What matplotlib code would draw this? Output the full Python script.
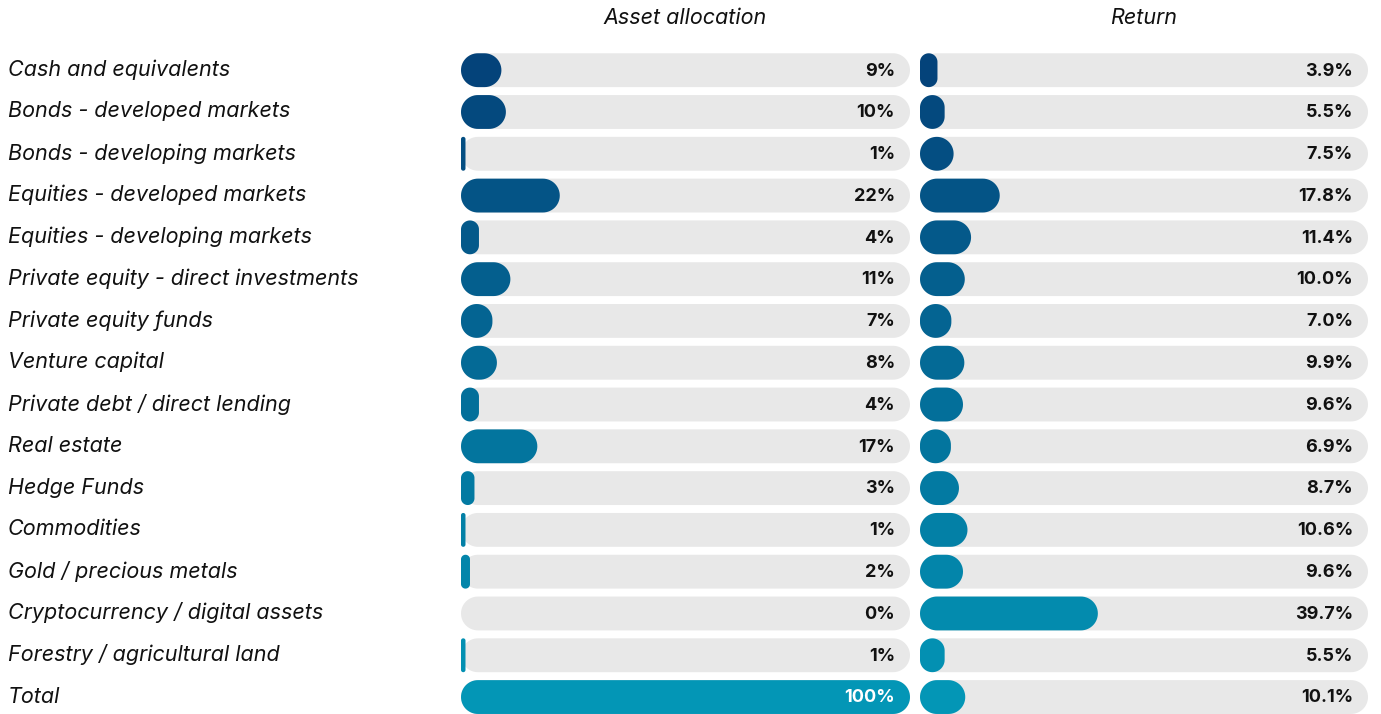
import numpy as np
import matplotlib
matplotlib.use("Agg")
import matplotlib.pyplot as plt
from matplotlib.patches import Polygon
from matplotlib.colors import to_rgb

categories = [
    "Cash and equivalents",
    "Bonds - developed markets",
    "Bonds - developing markets",
    "Equities - developed markets",
    "Equities - developing markets",
    "Private equity - direct investments",
    "Private equity funds",
    "Venture capital",
    "Private debt / direct lending",
    "Real estate",
    "Hedge Funds",
    "Commodities",
    "Gold / precious metals",
    "Cryptocurrency / digital assets",
    "Forestry / agricultural land",
    "Total",
]
allocation = [9, 10, 1, 22, 4, 11, 7, 8, 4, 17, 3, 1, 2, 0, 1, 100]
returns = [3.9, 5.5, 7.5, 17.8, 11.4, 10.0, 7.0, 9.9, 9.6, 6.9, 8.7, 10.6, 9.6, 39.7, 5.5, 10.1]
allocation_labels = [f"{v}%" for v in allocation]
return_labels = [f"{v:.1f}%" for v in returns]

W, H = 1381, 714
FONT = "Inter"

# row colours: dark navy at the top to teal at the bottom
c_top = np.array(to_rgb("#04437a"))
c_bot = np.array(to_rgb("#0396b6"))
n = len(categories)
row_colors = [tuple(c_top + (c_bot - c_top) * i / (n - 1)) for i in range(n)]

fig = plt.figure(figsize=(W / 100, H / 100), dpi=100)
fig.patch.set_facecolor("white")

row0, step = 70.2, 41.79
bar_h = 0.81  # in row units


def px_axes(x0, x1):
    top = row0 - step / 2
    bottom = row0 + step * (n - 0.5)
    return fig.add_axes([x0 / W, 1 - bottom / H, (x1 - x0) / W, (bottom - top) / H])


def rounded(ax, x, y, w, h, color, aspect):
    # pill / rounded bar with circular corners; aspect = y-units per x-unit on screen
    h_x = h / aspect
    r = min(w / 2, h_x / 2)
    t = np.linspace(0, np.pi / 2, 16)
    cx = [x + w - r, x + r, x + r, x + w - r]
    cy = [h_x / 2 - r, h_x / 2 - r, -h_x / 2 + r, -h_x / 2 + r]
    pts = []
    for k in range(4):
        a = t + k * np.pi / 2
        pts.append(np.column_stack([cx[k] + r * np.cos(a), cy[k] + r * np.sin(a)]))
    pts = np.vstack(pts)
    pts[:, 1] = y + pts[:, 1] * aspect
    ax.add_patch(Polygon(pts, closed=True, facecolor=color, edgecolor="none", linewidth=0))


def panel(x0, x1, values, labels, title, white_last=False):
    ax = px_axes(x0, x1)
    ax.set_xlim(0, 100)
    ax.set_ylim(n - 0.5, -0.5)
    ax.axis("off")
    ax_w = x1 - x0
    ax_h = step * n
    aspect = (n / ax_h) / (100 / ax_w)
    for i, v in enumerate(values):
        rounded(ax, 0, i, 100, bar_h, "#e8e8e8", aspect)
        if v > 0:
            rounded(ax, 0, i, v, bar_h, row_colors[i], aspect)
        col = "white" if (white_last and i == n - 1) else "#111111"
        ax.text(100 - 15 * 100 / ax_w, i + 0.02, labels[i], ha="right", va="center",
                fontsize=13, fontweight="bold", color=col, family=FONT)
    fig.text((x0 + x1) / 2 / W, 1 - 18 / H, title, ha="center", va="center",
             fontsize=15.5, style="italic", color="#111111", family=FONT)
    return ax


panel(461, 910, allocation, allocation_labels, "Asset allocation", white_last=True)
panel(920, 1368, returns, return_labels, "Return")

for i, cat in enumerate(categories):
    fig.text(8 / W, 1 - (row0 + step * i - 0.5) / H, cat, ha="left", va="center",
             fontsize=15.5, style="italic", color="#111111", family=FONT)

fig.savefig("out.png", dpi=100, facecolor="white")
